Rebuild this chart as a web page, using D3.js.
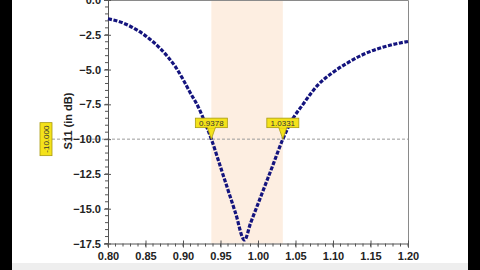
<!DOCTYPE html>
<html>
<head>
<meta charset="utf-8">
<script src="https://cdn.jsdelivr.net/npm/d3@7"></script>
<style>
  html, body { margin: 0; padding: 0; background: #fff; }
  svg { display: block; font-family: "Liberation Sans", Arial, sans-serif; }
  .tick text { font-size: 11px; fill: #222; font-weight: bold; }
</style>
</head>
<body>
<div id="chart"></div>
<script>
/* frequency (GHz-ish units as on the axis) and S11 in dB */
var freq = [0.80, 0.82, 0.84, 0.86, 0.88, 0.89, 0.90, 0.91, 0.92, 0.93, 0.9378,
            0.95, 0.96, 0.97, 0.982, 0.99, 1.00, 1.01, 1.02, 1.0331, 1.045,
            1.06, 1.07, 1.08, 1.10, 1.12, 1.14, 1.16, 1.18, 1.20];
var s11  = [-1.35, -1.65, -2.2, -3.0, -4.1, -4.8, -5.7, -6.7, -7.65, -8.9, -10.0,
            -12.0, -13.65, -15.3, -17.25, -16.05, -14.65, -13.25, -11.85, -10.0, -8.66,
            -7.5, -6.75, -6.1, -5.2, -4.5, -3.92, -3.5, -3.2, -2.98];

var xTicks = [0.80, 0.85, 0.90, 0.95, 1.00, 1.05, 1.10, 1.15, 1.20];
var yTicks = [0, -2.5, -5, -7.5, -10, -12.5, -15, -17.5];

var refLevel = -10;
var bandEdges = [0.9378, 1.0331];
var markerLabels = ['0.9378', '1.0331'];
var refLabel = '-10.000';
var yTitle = 'S11 (in dB)';

var W = 480, H = 270;
var margin = { top: 0, left: 108, right: 72, bottom: 26.5 };
var width = W - margin.left - margin.right;
var height = H - margin.top - margin.bottom;

var svg = d3.select('#chart').append('svg')
  .attr('width', W).attr('height', H);

/* black side bars and bottom strip of the screenshot */
svg.append('rect').attr('x', 0).attr('y', 0).attr('width', 12).attr('height', H).attr('fill', '#000');
svg.append('rect').attr('x', 468).attr('y', 0).attr('width', 12).attr('height', H).attr('fill', '#000');
svg.append('rect').attr('x', 12).attr('y', 263).attr('width', 456).attr('height', 7).attr('fill', '#eeeeee');

var x = d3.scaleLinear().domain([0.80, 1.20]).range([margin.left, margin.left + width]);
var y = d3.scaleLinear().domain([0, -17.5]).range([margin.top, margin.top + height]);

/* highlighted band between the two -10 dB crossings */
svg.append('rect')
  .attr('x', x(bandEdges[0]))
  .attr('y', y(0))
  .attr('width', x(bandEdges[1]) - x(bandEdges[0]))
  .attr('height', y(-17.5) - y(0))
  .attr('fill', '#fdeee1');

/* plot frame (top + right) */
svg.append('path')
  .attr('d', 'M' + x(0.8) + ',' + (y(0) + 0.5) + 'H' + (x(1.2) + 0.5) + 'V' + y(-17.5))
  .attr('fill', 'none').attr('stroke', '#8a8a8a');

/* reference line at -10 dB */
svg.append('line')
  .attr('x1', 52).attr('x2', x(1.2))
  .attr('y1', y(refLevel)).attr('y2', y(refLevel))
  .attr('stroke', '#9a9a9a').attr('stroke-width', 1)
  .attr('stroke-dasharray', '3,2');

/* minor ticks */
var xMinor = d3.range(0.80, 1.2001, 0.01);
var yMinor = d3.range(0, -17.5001, -0.5);

svg.append('g').selectAll('line').data(xMinor).join('line')
  .attr('x1', function (d) { return x(d); }).attr('x2', function (d) { return x(d); })
  .attr('y1', y(-17.5)).attr('y2', y(-17.5) + 3)
  .attr('stroke', '#555');
svg.append('g').selectAll('line').data(yMinor).join('line')
  .attr('x1', x(0.8) - 3).attr('x2', x(0.8))
  .attr('y1', function (d) { return y(d); }).attr('y2', function (d) { return y(d); })
  .attr('stroke', '#555');

/* axes */
var xAxis = svg.append('g')
  .attr('transform', 'translate(0,' + y(-17.5) + ')')
  .call(d3.axisBottom(x).tickValues(xTicks).tickFormat(d3.format('.2f')).tickSizeOuter(0).tickSize(4).tickPadding(5));
xAxis.select('.domain').attr('stroke', '#555');
xAxis.selectAll('.tick line').attr('stroke', '#555').attr('y1', -3);

var yAxis = svg.append('g')
  .attr('transform', 'translate(' + x(0.8) + ',0)')
  .call(d3.axisLeft(y).tickValues(yTicks).tickFormat(d3.format('.1f')).tickSizeOuter(0).tickSize(4).tickPadding(3));
yAxis.select('.domain').attr('stroke', '#555');
yAxis.selectAll('.tick line').attr('stroke', '#555').attr('x1', 3);

/* y axis title */
svg.append('text')
  .attr('transform', 'translate(72,' + 121 + ') rotate(-90)')
  .attr('text-anchor', 'middle')
  .attr('font-size', 11).attr('font-weight', 'bold').attr('fill', '#222')
  .text(yTitle);

/* S11 curve */
var line = d3.line()
  .x(function (d, i) { return x(freq[i]); })
  .y(function (d) { return y(d); })
  .curve(d3.curveMonotoneX);

svg.append('path')
  .datum(s11)
  .attr('d', line)
  .attr('fill', 'none')
  .attr('stroke', '#14147e')
  .attr('stroke-width', 3.2)
  .attr('stroke-dasharray', '4,1.6');

/* yellow markers at crossings */
var mk = svg.append('g').selectAll('g').data(bandEdges).join('g')
  .attr('transform', function (d) { return 'translate(' + x(d) + ',' + y(refLevel) + ')'; });
mk.append('path')
  .attr('d', 'M-4,-11.5L4,-11.5L0,0Z')
  .attr('fill', '#f4e21a').attr('stroke', '#a89a10').attr('stroke-width', 0.8);
mk.append('rect')
  .attr('x', -16).attr('y', -21).attr('width', 32).attr('height', 9.5)
  .attr('fill', '#f4e21a').attr('stroke', '#a89a10').attr('stroke-width', 0.8);
mk.append('path')
  .attr('d', 'M-3.5,-11.6L3.5,-11.6')
  .attr('stroke', '#f4e21a').attr('stroke-width', 1);
mk.append('text')
  .attr('y', -13.3).attr('text-anchor', 'middle')
  .attr('font-size', 8).attr('fill', '#333')
  .text(function (d, i) { return markerLabels[i]; });

/* yellow reference marker on the y axis */
var rm = svg.append('g').attr('transform', 'translate(46,' + y(refLevel) + ')');
rm.append('rect')
  .attr('x', -6).attr('y', -16.5).attr('width', 12).attr('height', 33)
  .attr('fill', '#f4e21a').attr('stroke', '#a89a10').attr('stroke-width', 0.8);
rm.append('text')
  .attr('transform', 'rotate(-90)')
  .attr('y', 3).attr('text-anchor', 'middle')
  .attr('font-size', 8).attr('fill', '#333')
  .text(refLabel);
</script>
</body>
</html>
